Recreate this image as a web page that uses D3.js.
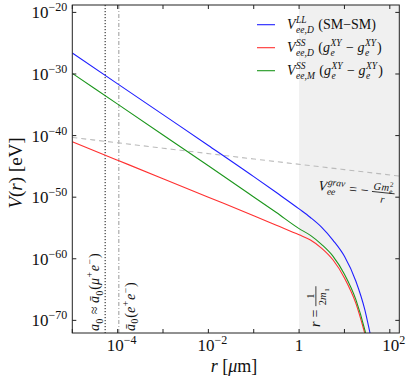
<!DOCTYPE html>
<html>
<head>
<meta charset="utf-8">
<script src="https://d3js.org/d3.v7.min.js"></script>
<style>
  body { margin: 0; background: #fff; }
  svg text { font-family: 'Liberation Serif', 'Times New Roman', serif; fill: #111; }
</style>
</head>
<body>
<svg width="407" height="381"></svg>
<script>
// values: r in micrometres, V in eV
const rBlue  = [1e-5, 1e-4, 1e-3, 1e-2, 0.1, 0.316, 1, 1.78, 3.16, 5.62, 10, 17.8, 28.2, 35.5, 41.7];
const vBlue  = [2.5e-27, 2.5e-32, 2.5e-37, 2.5e-42, 2.2e-47, 5.6e-50, 1.26e-52, 5.0e-54, 1.26e-55, 1.0e-57, 2.5e-60, 2.5e-64, 5.0e-69, 2.5e-72, 1e-74];
const rGreen = [1e-5, 1e-4, 1e-3, 1e-2, 0.1, 0.316, 1, 1.78, 3.16, 5.62, 10, 17.8, 28.2, 33.1];
const vGreen = [1.26e-30, 1.26e-35, 1.26e-40, 1.26e-45, 1.1e-50, 3.2e-53, 7.9e-56, 6.3e-57, 2.0e-58, 2.5e-60, 3.2e-63, 2.5e-67, 2.5e-72, 1.6e-74];
const rRed   = [1e-5, 1e-4, 1e-3, 1e-2, 0.1, 0.316, 1, 1.78, 3.16, 5.62, 10, 17.8, 26.9, 31.6];
const vRed   = [1.0e-41, 1.0e-44, 1.0e-47, 1.0e-50, 1.0e-53, 2.8e-55, 7.9e-57, 1.1e-57, 5.0e-59, 6.3e-61, 7.9e-64, 6.3e-68, 2.5e-72, 3.2e-74];
const rGrav  = [1e-5, 1e-3, 0.1, 10, 162];
const vGrav  = [5.0e-41, 9.0e-43, 1.6e-44, 3.0e-46, 2.7e-47];

const aMu = 5.3e-5, aPos = 1.06e-4, rCut = 1;   // vertical markers
const xTicks = [1e-5, 1e-4, 1e-3, 1e-2, 1e-1, 1, 10, 100];
const xLabels = [[1e-4, "−4"], [1e-2, "−2"], [1, null], [100, "2"]];
const yTicks = [-20, -30, -40, -50, -60, -70];

const svg = d3.select("svg");
const pl = 72.3, pr = 399.3, pt = 5, pb = 333;

const x = d3.scaleLog().domain([1e-5, 162]).range([pl, pr]);
const y = d3.scaleLog().domain([Math.pow(10, -72.05), Math.pow(10, -18.8)]).range([pb, pt]);

svg.append("clipPath").attr("id", "clip")
  .append("rect").attr("x", pl).attr("y", pt).attr("width", pr - pl).attr("height", pb - pt);

// shaded region r > 1/(2 m1)
svg.append("rect")
  .attr("x", x(rCut)).attr("y", pt)
  .attr("width", pr - x(rCut)).attr("height", pb - pt)
  .attr("fill", "#f0f0f0");

const plot = svg.append("g").attr("clip-path", "url(#clip)");

// vertical markers
plot.append("line").attr("x1", x(aMu)).attr("x2", x(aMu)).attr("y1", pt).attr("y2", pb)
  .attr("stroke", "#111").attr("stroke-width", 1).attr("stroke-dasharray", "1.2,1.8");
plot.append("line").attr("x1", x(aPos)).attr("x2", x(aPos)).attr("y1", pt).attr("y2", pb)
  .attr("stroke", "#aaa").attr("stroke-width", 1.2).attr("stroke-dasharray", "4,2,1,2");

const line = d3.line().x(d => x(d[0])).y(d => y(d[1])).curve(d3.curveMonotoneX);
const series = [
  [rGrav, vGrav, "#bbb", "5,4"],
  [rRed, vRed, "#ff3030", null],
  [rGreen, vGreen, "#1c961c", null],
  [rBlue, vBlue, "#1f1fff", null]
];
series.forEach(([rs, vs, c, dash]) => {
  plot.append("path")
    .datum(d3.zip(rs, vs))
    .attr("d", line)
    .attr("fill", "none")
    .attr("stroke", c)
    .attr("stroke-width", 1.1)
    .attr("stroke-dasharray", dash);
});

// frame and inward ticks
svg.append("rect").attr("x", pl).attr("y", pt).attr("width", pr - pl).attr("height", pb - pt)
  .attr("fill", "none").attr("stroke", "#222").attr("stroke-width", 1);

xTicks.forEach(t => {
  const px = x(t);
  svg.append("line").attr("x1", px).attr("x2", px).attr("y1", pb).attr("y2", pb - 4).attr("stroke", "#222");
  svg.append("line").attr("x1", px).attr("x2", px).attr("y1", pt).attr("y2", pt + 4).attr("stroke", "#222");
});
yTicks.forEach(e => {
  const py = y(Math.pow(10, e));
  svg.append("line").attr("x1", pl).attr("x2", pl + 4).attr("y1", py).attr("y2", py).attr("stroke", "#222");
  svg.append("line").attr("x1", pr).attr("x2", pr - 4).attr("y1", py).attr("y2", py).attr("stroke", "#222");
  const t = svg.append("text").attr("x", pl - 5).attr("y", py + 6).attr("text-anchor", "end").attr("font-size", 17);
  t.append("tspan").text("10");
  t.append("tspan").attr("dy", -7).attr("font-size", 12).text("−" + (-e));
});

// x tick labels
xLabels.forEach(([v, ex]) => {
  const t = svg.append("text").attr("x", x(v)).attr("y", 351).attr("text-anchor", "middle").attr("font-size", 17);
  if (ex === null) { t.text("1"); return; }
  t.append("tspan").text("10");
  t.append("tspan").attr("dy", -7).attr("font-size", 12).text(ex);
  t.attr("dx", 4);
});

// small math typesetter: tokens are text, sub/sup pairs, or fractions
function drawMath(g, tokens, size) {
  let cx = 0;
  tokens.forEach(tk => {
    if (tk.t != null) {
      const el = g.append("text").attr("x", cx).attr("y", 0).attr("font-size", size)
        .attr("font-style", tk.i ? "italic" : "normal").text(tk.t.replace(/ /g, "\u00a0"));
      cx += el.node().getComputedTextLength() + (tk.i ? 0.5 : 0);
    } else if (tk.frac) {
      const fs = size * 0.75;
      const ng = g.append("g"), dg = g.append("g");
      const nw = drawMath(ng, tk.frac[0], fs), dw = drawMath(dg, tk.frac[1], fs);
      const w = Math.max(nw, dw) + 2;
      ng.attr("transform", `translate(${cx + 1 + (w - 2 - nw) / 2},${-size * 0.45})`);
      dg.attr("transform", `translate(${cx + 1 + (w - 2 - dw) / 2},${size * 0.42})`);
      g.append("line").attr("x1", cx).attr("x2", cx + w).attr("y1", -size * 0.3).attr("y2", -size * 0.3)
        .attr("stroke", "#111").attr("stroke-width", 0.8);
      cx += w + 1;
    } else {
      const fs = size * 0.68;
      let w = 0;
      if (tk.sup) {
        const el = g.append("text").attr("x", cx).attr("y", -size * 0.42).attr("font-size", fs)
          .attr("font-style", tk.si === false ? "normal" : "italic").text(tk.sup);
        w = Math.max(w, el.node().getComputedTextLength());
      }
      if (tk.sub) {
        const el = g.append("text").attr("x", cx).attr("y", size * 0.25).attr("font-size", fs)
          .attr("font-style", tk.bi === false ? "normal" : "italic").text(tk.sub);
        w = Math.max(w, el.node().getComputedTextLength());
      }
      cx += w + 1;
    }
  });
  return cx;
}

// legend
const gXY = [{t: "g", i: true}, {sup: "XY", sub: "e"}];
const legend = [
  ["#1f1fff", [{t: "V", i: true}, {sup: "LL", sub: "ee,D"}, {t: " (SM−SM)"}]],
  ["#ff3030", [{t: "V", i: true}, {sup: "SS", sub: "ee,D"}, {t: " ("}, ...gXY, {t: " − "}, ...gXY, {t: ")"}]],
  ["#1c961c", [{t: "V", i: true}, {sup: "SS", sub: "ee,M"}, {t: " ("}, ...gXY, {t: " − "}, ...gXY, {t: ")"}]]
];
legend.forEach(([c, toks], i) => {
  const ly = 24.7 + i * 23;
  svg.append("line").attr("x1", 257).attr("x2", 275).attr("y1", ly).attr("y2", ly).attr("stroke", c).attr("stroke-width", 1.1);
  drawMath(svg.append("g").attr("transform", `translate(287,${ly + 4.5})`), toks, 14);
});

// gravitational label
drawMath(svg.append("g").attr("transform", "translate(318,190) rotate(6)"),
  [{t: "V", i: true}, {sup: "grav", sub: "ee"}, {t: " = − "},
   {frac: [[{t: "G", i: true}, {t: "m", i: true}, {sup: "2", sub: "e", si: false}], [{t: "r", i: true}]]}], 14);

// vertical annotations
drawMath(svg.append("g").attr("transform", `translate(${x(aMu) - 6},331) rotate(-90)`),
  [{t: "a", i: true}, {sub: "0", bi: false}, {t: " ≈ "}, {t: "ā", i: true}, {sub: "0", bi: false}, {t: "("},
   {t: "μ", i: true}, {sup: "+", si: false}, {t: "e", i: true}, {sup: "−", si: false}, {t: ")"}], 14);
drawMath(svg.append("g").attr("transform", `translate(${x(aPos) + 16},331) rotate(-90)`),
  [{t: "ā", i: true}, {sub: "0", bi: false}, {t: "("}, {t: "e", i: true}, {sup: "+", si: false},
   {t: "e", i: true}, {sup: "−", si: false}, {t: ")"}], 14);
drawMath(svg.append("g").attr("transform", `translate(${x(rCut) + 21},327) rotate(-90)`),
  [{t: "r", i: true}, {t: " = "}, {frac: [[{t: "1"}], [{t: "2"}, {t: "m", i: true}, {sub: "1", bi: false}]]}], 14);

// axis titles
const yl = svg.append("text").attr("transform", "translate(22,173) rotate(-90)").attr("text-anchor", "middle").attr("font-size", 19);
yl.append("tspan").attr("font-style", "italic").text("V");
yl.append("tspan").text("(");
yl.append("tspan").attr("font-style", "italic").text("r");
yl.append("tspan").text(") [eV]");

const xl = svg.append("text").attr("x", 234).attr("y", 372).attr("text-anchor", "middle").attr("font-size", 18);
xl.append("tspan").attr("font-style", "italic").text("r");
xl.append("tspan").text(" [");
xl.append("tspan").attr("font-style", "italic").text("μ");
xl.append("tspan").text("m]");
</script>
</body>
</html>
